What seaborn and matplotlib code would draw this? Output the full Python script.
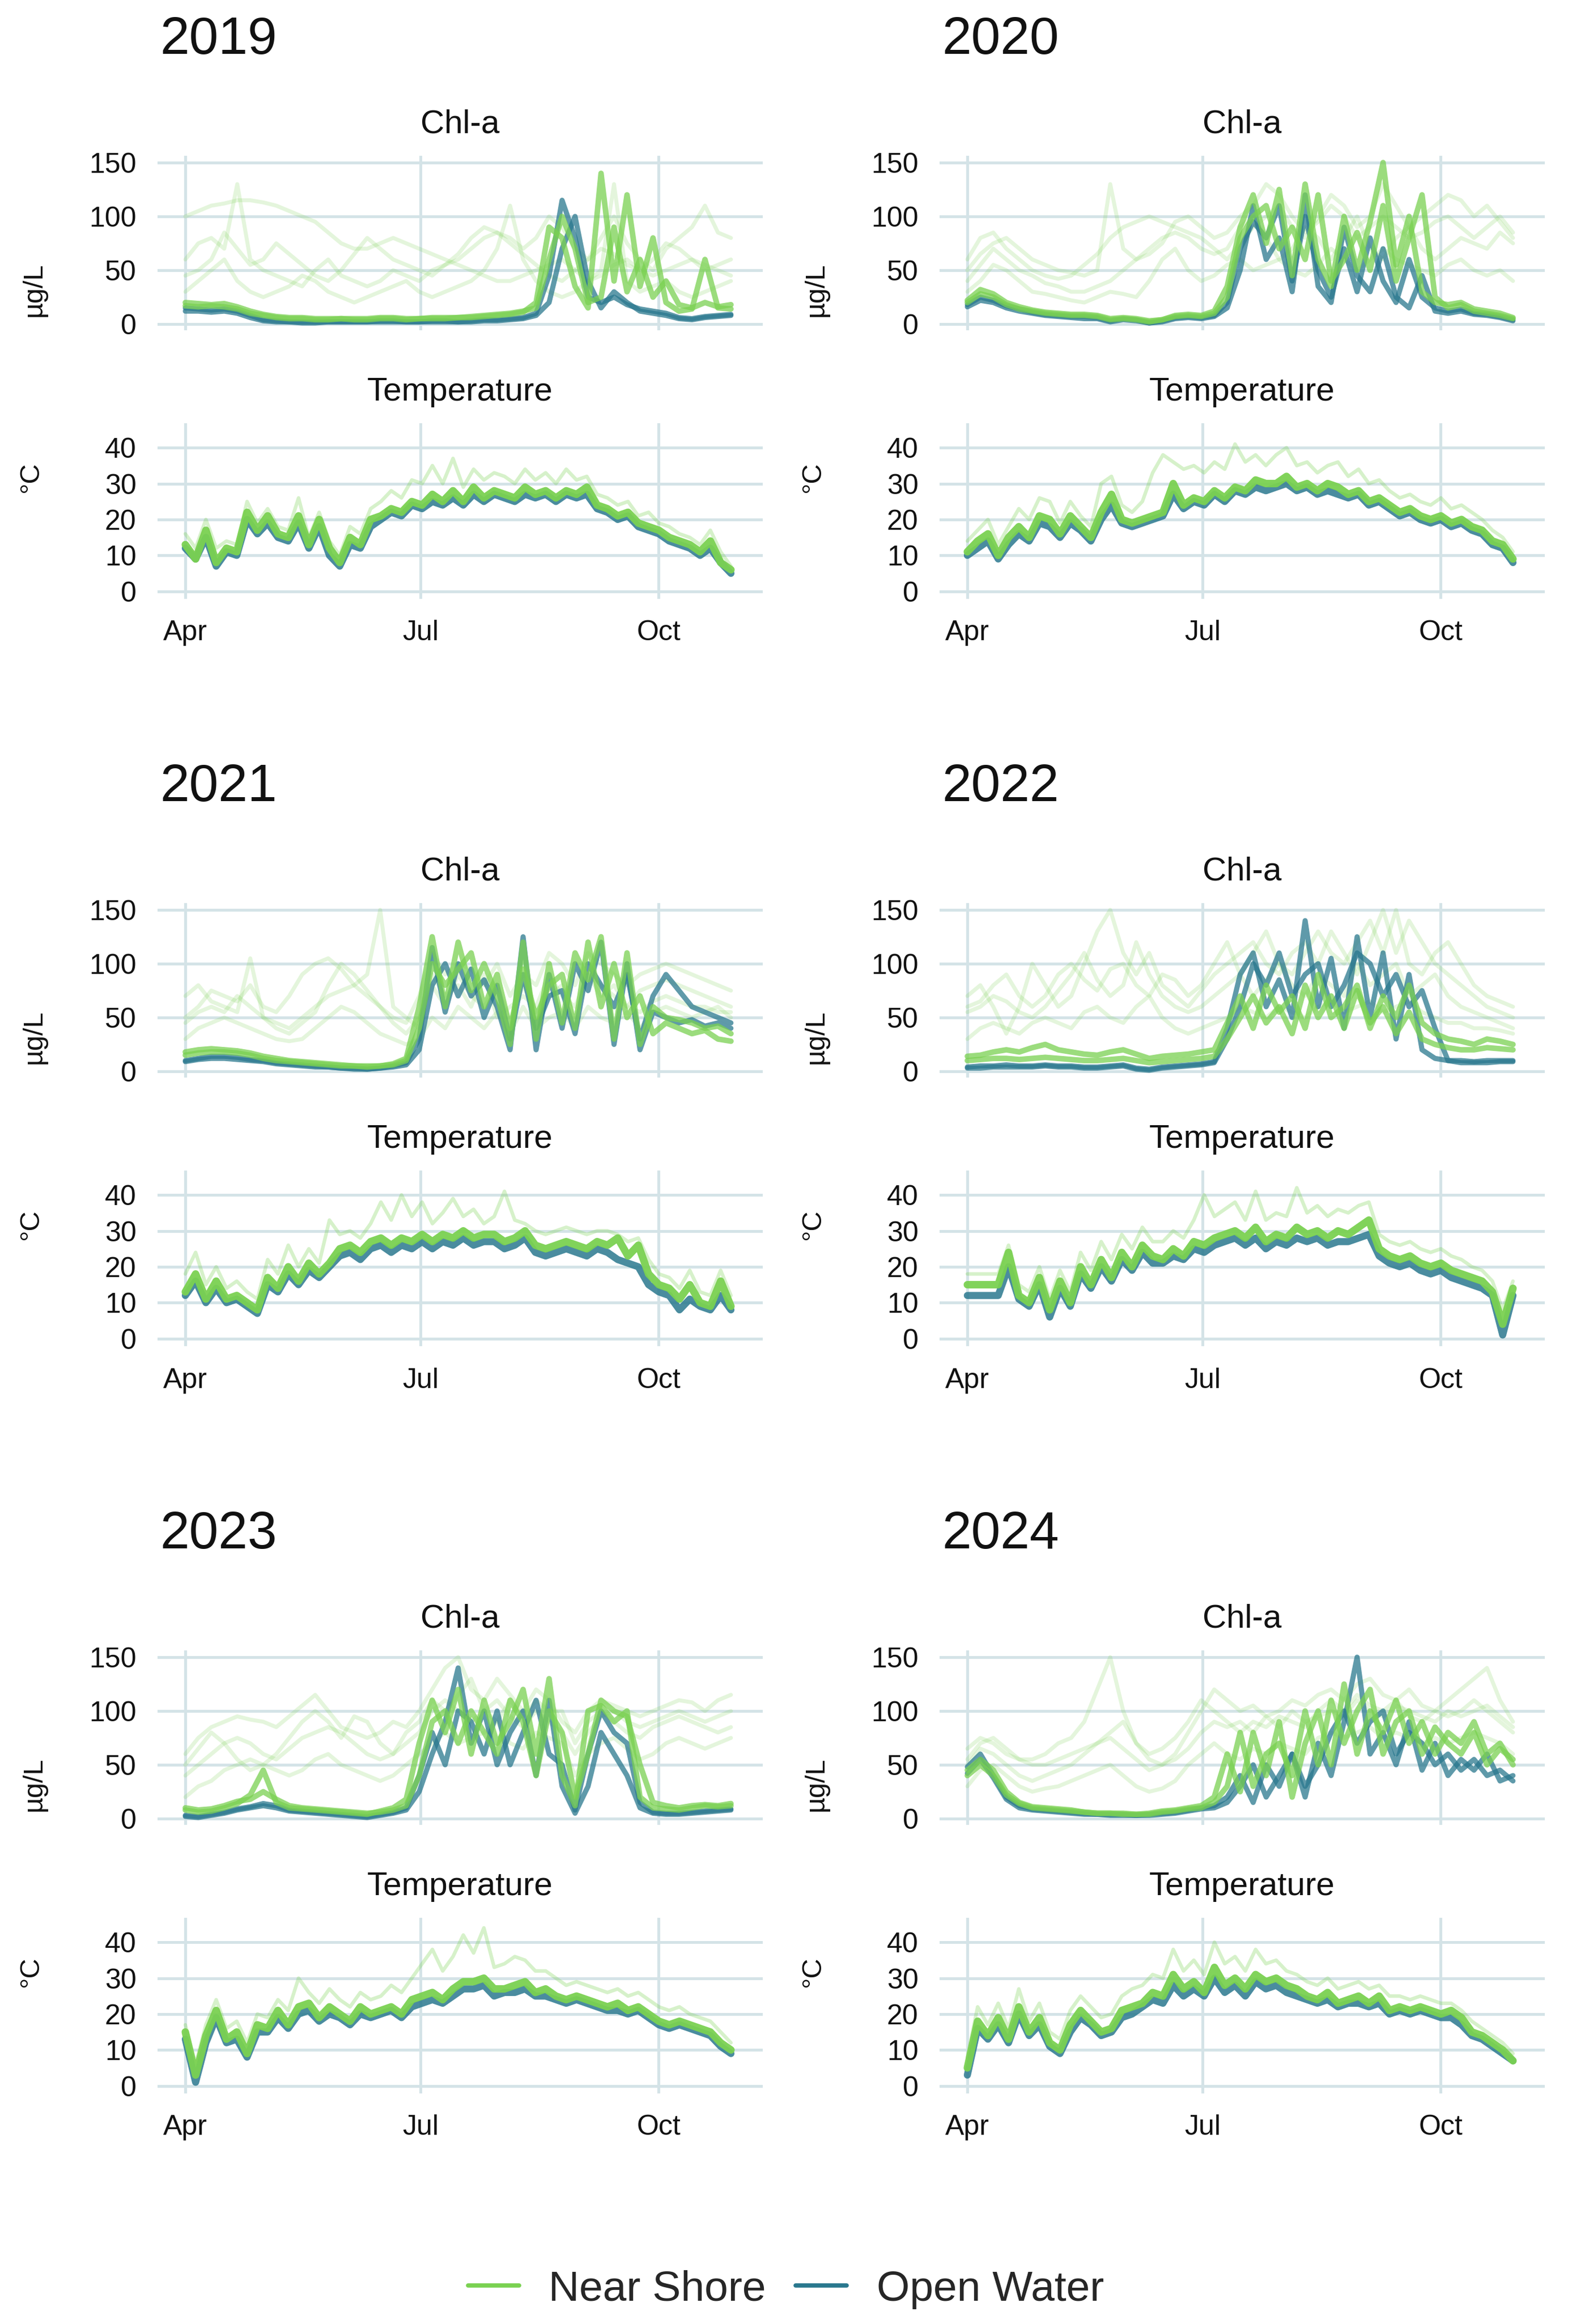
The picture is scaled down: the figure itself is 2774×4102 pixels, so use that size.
import numpy as np
import pandas as pd
import matplotlib
matplotlib.use("Agg")
import matplotlib.pyplot as plt
from matplotlib.lines import Line2D
import seaborn as sns

# ---------------------------------------------------------------- categories
YEARS = [2019, 2020, 2021, 2022, 2023, 2024]
GROUPS = ["Near Shore", "Open Water"]
MONTH_TICKS = ["Apr", "Jul", "Oct"]
CHL_TICKS = [0, 50, 100, 150]
TEMP_TICKS = [0, 10, 20, 30, 40]
PANEL_TITLES = ["Chl-a", "Temperature"]
UNIT_LABELS = ["\u00b5g/L", "\u00b0C"]

# ------------------------------------------------- values
# Chl-a (ug/L), ~5-day steps from Apr 1 to end of Oct
CHL_OW1_2019 = [15, 14, 13, 14, 12, 8, 4, 3, 2, 2, 2, 2, 2, 2, 2, 3, 3, 2, 2, 3, 3, 2, 3, 4, 4, 5, 6, 10, 45, 115, 80, 25, 20, 25, 18, 14, 12, 10, 6, 5, 7, 8, 9]
CHL_OW2_2019 = [12, 12, 11, 12, 10, 6, 3, 2, 2, 1, 1, 2, 2, 2, 2, 2, 2, 2, 2, 2, 2, 2, 2, 3, 3, 4, 5, 8, 20, 70, 100, 40, 15, 30, 20, 12, 10, 8, 5, 4, 6, 7, 8]
CHL_NS1_2019 = [20, 19, 18, 19, 16, 12, 9, 7, 6, 6, 5, 5, 5, 5, 5, 6, 6, 5, 5, 6, 6, 6, 7, 8, 9, 10, 12, 15, 60, 100, 70, 20, 25, 90, 30, 60, 25, 40, 18, 15, 20, 16, 18]
CHL_NS2_2019 = [17, 16, 17, 16, 14, 10, 8, 6, 5, 5, 4, 4, 5, 4, 4, 5, 5, 4, 5, 5, 5, 6, 6, 7, 8, 9, 11, 20, 90, 80, 35, 15, 140, 40, 120, 35, 80, 20, 12, 14, 60, 15, 14]
CHL_F1_2019 = [60, 75, 80, 70, 130, 60, 50, 45, 40, 35, 50, 60, 45, 40, 35, 40, 50, 45, 40, 50, 55, 60, 70, 80, 85, 80, 70, 80, 100, 90, 70, 60, 80, 100, 75, 60, 50, 70, 80, 90, 110, 85, 80]
CHL_F2_2019 = [100, 105, 110, 112, 115, 115, 113, 110, 105, 100, 95, 85, 75, 70, 70, 75, 80, 75, 70, 65, 60, 55, 50, 45, 40, 40, 45, 50, 55, 60, 50, 40, 45, 55, 60, 50, 45, 50, 55, 60, 55, 50, 45]
CHL_F3_2019 = [30, 40, 50, 60, 40, 30, 25, 30, 35, 45, 40, 30, 25, 20, 25, 30, 35, 40, 30, 25, 30, 35, 40, 50, 70, 110, 60, 40, 30, 25, 30, 40, 50, 130, 40, 30, 35, 40, 30, 25, 30, 35, 40]
CHL_F4_2019 = [45, 50, 60, 85, 70, 55, 60, 75, 65, 55, 45, 40, 50, 65, 80, 70, 60, 55, 50, 45, 55, 65, 80, 90, 85, 75, 65, 55, 45, 40, 50, 60, 70, 65, 55, 50, 60, 75, 70, 60, 50, 55, 60]

CHL_OW1_2020 = [18, 25, 22, 17, 14, 11, 9, 8, 7, 7, 6, 3, 5, 4, 1, 3, 6, 7, 6, 8, 20, 70, 95, 80, 110, 40, 100, 50, 25, 70, 30, 80, 40, 20, 60, 25, 15, 12, 14, 10, 9, 7, 4]
CHL_OW2_2020 = [16, 22, 20, 15, 12, 10, 8, 7, 6, 5, 5, 2, 4, 3, 1, 2, 5, 6, 5, 7, 15, 50, 110, 60, 80, 30, 120, 35, 20, 90, 45, 30, 70, 25, 15, 45, 12, 10, 12, 9, 8, 6, 3]
CHL_NS1_2020 = [22, 32, 28, 20, 16, 13, 11, 10, 9, 9, 8, 5, 6, 5, 3, 4, 8, 9, 8, 12, 35, 90, 120, 75, 125, 45, 130, 60, 35, 100, 50, 95, 150, 55, 100, 30, 20, 18, 20, 14, 12, 10, 6]
CHL_NS2_2020 = [20, 28, 25, 18, 14, 12, 10, 9, 8, 8, 7, 4, 5, 4, 2, 4, 7, 8, 7, 10, 25, 80, 100, 110, 70, 90, 60, 120, 40, 60, 85, 50, 110, 40, 80, 120, 25, 15, 18, 12, 10, 8, 5]
CHL_F1_2020 = [60, 80, 85, 70, 60, 50, 45, 42, 45, 55, 65, 80, 90, 95, 100, 95, 90, 85, 80, 70, 60, 75, 90, 100, 110, 90, 80, 100, 120, 110, 90, 100, 130, 110, 90, 100, 110, 120, 115, 100, 110, 95, 80]
CHL_F2_2020 = [40, 55, 70, 60, 50, 45, 38, 35, 30, 30, 35, 40, 50, 60, 70, 80, 85, 80, 70, 65, 70, 90, 100, 80, 60, 70, 90, 80, 60, 80, 100, 70, 60, 80, 90, 70, 60, 70, 80, 75, 70, 85, 75]
CHL_F3_2020 = [30, 40, 55, 50, 40, 30, 28, 25, 22, 20, 25, 30, 28, 25, 40, 60, 70, 50, 40, 45, 55, 60, 50, 55, 60, 50, 45, 55, 70, 60, 50, 60, 70, 60, 55, 50, 45, 55, 60, 50, 45, 50, 40]
CHL_F4_2020 = [50, 65, 75, 80, 70, 60, 55, 50, 48, 45, 50, 130, 70, 60, 65, 75, 95, 100, 90, 80, 85, 100, 110, 130, 120, 100, 85, 95, 110, 100, 80, 90, 100, 90, 80, 85, 95, 100, 90, 80, 90, 100, 85]

CHL_OW1_2021 = [10, 12, 14, 14, 13, 11, 10, 8, 7, 6, 5, 4, 3, 3, 2, 3, 5, 8, 30, 115, 55, 100, 70, 85, 60, 20, 125, 20, 90, 40, 100, 75, 120, 25, 100, 20, 55, 50, 45, 48, 42, 45, 40]
CHL_OW2_2021 = [9, 11, 12, 12, 11, 10, 9, 7, 6, 5, 4, 4, 3, 2, 2, 3, 4, 6, 20, 80, 100, 70, 95, 50, 80, 30, 90, 40, 70, 75, 35, 100, 80, 60, 90, 30, 70, 90, 75, 60, 55, 50, 45]
CHL_NS1_2021 = [18, 20, 21, 20, 19, 17, 14, 12, 10, 9, 8, 7, 6, 5, 5, 5, 7, 12, 60, 125, 60, 120, 75, 100, 70, 25, 120, 30, 100, 45, 110, 85, 125, 30, 110, 25, 60, 50, 48, 45, 40, 42, 35]
CHL_NS2_2021 = [15, 17, 18, 18, 17, 15, 12, 10, 9, 8, 7, 6, 5, 5, 4, 5, 6, 10, 40, 100, 80, 95, 110, 60, 90, 40, 95, 50, 80, 90, 40, 120, 60, 100, 50, 70, 35, 45, 40, 35, 38, 30, 28]
CHL_F1_2021 = [50, 60, 75, 70, 65, 80, 60, 55, 70, 90, 100, 105, 95, 80, 70, 60, 50, 45, 70, 110, 90, 100, 95, 80, 100, 70, 90, 80, 110, 100, 80, 110, 100, 90, 80, 90, 95, 100, 95, 90, 85, 80, 75]
CHL_F2_2021 = [70, 80, 65, 60, 55, 105, 50, 45, 40, 50, 60, 70, 75, 80, 90, 150, 60, 50, 40, 90, 70, 80, 60, 90, 50, 60, 70, 60, 90, 70, 60, 90, 80, 70, 60, 75, 80, 85, 80, 75, 70, 65, 60]
CHL_F3_2021 = [30, 40, 45, 50, 45, 40, 35, 30, 28, 30, 40, 50, 60, 55, 45, 35, 30, 25, 30, 50, 40, 60, 50, 40, 55, 35, 60, 40, 50, 55, 40, 60, 50, 45, 55, 40, 55, 60, 55, 50, 55, 60, 50]
CHL_F4_2021 = [45, 55, 60, 55, 70, 60, 50, 40, 35, 45, 55, 80, 100, 90, 75, 60, 45, 35, 50, 80, 60, 90, 70, 60, 80, 45, 80, 55, 70, 80, 50, 90, 70, 80, 60, 55, 65, 70, 65, 60, 60, 55, 55]

CHL_OW1_2022 = [4, 5, 5, 6, 5, 5, 6, 5, 5, 4, 4, 5, 6, 3, 2, 4, 5, 6, 7, 9, 40, 90, 110, 60, 85, 50, 140, 60, 105, 40, 125, 50, 110, 30, 90, 20, 12, 10, 10, 9, 10, 10, 10]
CHL_OW2_2022 = [3, 3, 4, 4, 4, 4, 5, 4, 4, 3, 3, 4, 5, 2, 1, 3, 4, 5, 6, 8, 30, 60, 100, 80, 110, 70, 90, 100, 60, 80, 110, 100, 70, 90, 60, 75, 40, 10, 8, 8, 8, 9, 9]
CHL_NS1_2022 = [10, 11, 12, 12, 11, 12, 13, 12, 11, 10, 10, 11, 12, 10, 8, 9, 10, 11, 12, 14, 30, 50, 70, 45, 60, 35, 80, 50, 70, 40, 75, 45, 60, 35, 55, 30, 25, 22, 20, 20, 22, 21, 20]
CHL_NS2_2022 = [14, 15, 18, 20, 18, 22, 25, 20, 18, 16, 15, 18, 20, 16, 12, 14, 15, 16, 18, 20, 45, 70, 40, 80, 55, 70, 40, 90, 50, 60, 80, 40, 70, 50, 80, 45, 35, 30, 28, 25, 30, 28, 25]
CHL_F1_2022 = [70, 80, 60, 35, 60, 100, 80, 60, 70, 100, 130, 150, 110, 90, 110, 80, 70, 60, 75, 90, 100, 110, 120, 100, 90, 110, 120, 100, 130, 110, 90, 120, 150, 110, 140, 120, 100, 90, 80, 70, 60, 55, 50]
CHL_F2_2022 = [55, 60, 70, 65, 55, 50, 60, 75, 90, 110, 85, 70, 80, 120, 90, 70, 60, 55, 60, 70, 80, 90, 70, 85, 100, 80, 70, 90, 80, 70, 100, 80, 90, 100, 70, 80, 90, 70, 60, 55, 50, 45, 40]
CHL_F3_2022 = [30, 40, 45, 40, 35, 45, 50, 45, 40, 55, 60, 50, 45, 60, 70, 50, 40, 35, 40, 45, 50, 60, 55, 50, 60, 55, 50, 60, 65, 55, 60, 65, 55, 60, 65, 55, 50, 45, 45, 40, 40, 38, 35]
CHL_F4_2022 = [60, 65, 80, 90, 70, 60, 70, 90, 100, 85, 75, 95, 100, 80, 70, 90, 85, 70, 80, 100, 120, 90, 110, 130, 100, 90, 110, 130, 110, 100, 120, 140, 110, 150, 100, 90, 110, 120, 100, 80, 70, 65, 60]

CHL_OW1_2023 = [2, 1, 3, 5, 8, 10, 12, 10, 7, 6, 5, 4, 3, 2, 1, 3, 5, 8, 25, 60, 90, 140, 70, 100, 50, 80, 100, 40, 110, 30, 5, 30, 80, 60, 40, 10, 5, 4, 4, 5, 6, 7, 8]
CHL_OW2_2023 = [3, 2, 4, 6, 9, 11, 14, 12, 8, 7, 6, 5, 4, 3, 2, 4, 6, 10, 40, 80, 50, 100, 90, 60, 100, 50, 80, 110, 60, 50, 8, 60, 100, 80, 70, 15, 6, 5, 5, 6, 7, 8, 9]
CHL_NS1_2023 = [8, 6, 7, 10, 14, 22, 45, 15, 10, 9, 8, 7, 6, 5, 4, 7, 10, 18, 70, 110, 80, 120, 60, 110, 70, 90, 120, 60, 130, 40, 12, 100, 105, 90, 100, 20, 10, 9, 8, 10, 12, 11, 12]
CHL_NS2_2023 = [10, 8, 9, 12, 16, 18, 25, 18, 12, 10, 9, 8, 7, 6, 5, 6, 8, 12, 40, 90, 100, 70, 100, 80, 60, 110, 90, 40, 100, 80, 20, 60, 110, 100, 95, 50, 15, 12, 10, 12, 13, 12, 14]
CHL_F1_2023 = [60, 75, 85, 90, 95, 92, 90, 85, 95, 105, 115, 100, 85, 80, 75, 80, 90, 85, 100, 120, 140, 150, 120, 110, 130, 115, 100, 120, 110, 90, 80, 100, 110, 105, 100, 95, 100, 105, 110, 108, 100, 110, 115]
CHL_F2_2023 = [40, 50, 60, 70, 75, 70, 60, 55, 65, 75, 80, 85, 80, 70, 60, 55, 60, 70, 80, 100, 110, 100, 90, 100, 110, 95, 85, 100, 90, 80, 60, 80, 95, 100, 90, 85, 90, 95, 100, 95, 90, 95, 100]
CHL_F3_2023 = [20, 30, 35, 45, 50, 55, 50, 45, 40, 45, 55, 60, 50, 45, 40, 35, 40, 50, 60, 70, 80, 70, 75, 80, 90, 70, 65, 80, 75, 70, 40, 60, 70, 75, 65, 55, 60, 70, 75, 70, 65, 70, 75]
CHL_F4_2023 = [50, 65, 80, 70, 55, 45, 50, 60, 75, 90, 100, 90, 75, 95, 90, 70, 60, 80, 90, 110, 100, 115, 130, 100, 90, 110, 95, 110, 100, 100, 70, 90, 100, 90, 80, 75, 85, 90, 95, 90, 85, 80, 85]

CHL_OW1_2024 = [48, 60, 40, 20, 12, 9, 8, 7, 6, 5, 4, 4, 4, 3, 4, 5, 6, 8, 10, 12, 20, 40, 15, 50, 30, 60, 20, 70, 40, 90, 150, 60, 80, 50, 90, 45, 70, 40, 55, 45, 60, 35, 40]
CHL_OW2_2024 = [42, 55, 38, 18, 10, 8, 7, 6, 5, 4, 4, 3, 3, 3, 3, 4, 5, 7, 9, 10, 15, 30, 50, 20, 40, 60, 30, 50, 80, 100, 70, 90, 100, 60, 80, 70, 50, 60, 45, 55, 40, 45, 35]
CHL_NS1_2024 = [45, 55, 45, 25, 15, 11, 10, 9, 8, 6, 5, 5, 5, 4, 5, 7, 8, 10, 12, 20, 60, 25, 80, 40, 90, 20, 70, 100, 50, 125, 60, 100, 80, 110, 70, 90, 60, 80, 70, 90, 60, 70, 50]
CHL_NS2_2024 = [40, 50, 40, 22, 14, 10, 9, 8, 7, 6, 5, 5, 4, 4, 4, 6, 7, 9, 10, 15, 30, 80, 30, 60, 70, 40, 100, 50, 110, 70, 100, 120, 60, 90, 100, 60, 85, 70, 60, 80, 50, 65, 55]
CHL_F1_2024 = [65, 75, 70, 60, 55, 55, 60, 70, 75, 90, 120, 150, 100, 70, 55, 50, 60, 80, 100, 120, 110, 100, 105, 95, 100, 110, 105, 115, 120, 110, 125, 130, 115, 110, 120, 105, 100, 110, 120, 130, 140, 110, 90]
CHL_F2_2024 = [55, 70, 75, 65, 55, 50, 50, 55, 60, 65, 70, 75, 65, 55, 45, 50, 55, 65, 80, 90, 85, 90, 80, 95, 85, 100, 90, 95, 100, 95, 110, 100, 95, 105, 100, 95, 90, 100, 95, 100, 105, 95, 85]
CHL_F3_2024 = [30, 45, 50, 40, 30, 25, 28, 30, 35, 40, 45, 50, 40, 30, 25, 28, 35, 50, 60, 70, 60, 55, 65, 60, 70, 65, 60, 75, 80, 75, 80, 85, 75, 80, 75, 70, 75, 70, 75, 80, 75, 70, 60]
CHL_F4_2024 = [50, 65, 60, 50, 40, 35, 40, 45, 50, 60, 70, 80, 90, 70, 60, 65, 75, 90, 110, 100, 90, 80, 90, 85, 95, 90, 85, 100, 110, 100, 115, 105, 100, 110, 95, 90, 100, 95, 100, 110, 100, 90, 80]

# Temperature (deg C), ~4-day steps from Apr 1 to end of Oct
TEMP_NS_2019 = [13, 9, 17, 8, 12, 11, 22, 17, 21, 16, 15, 21, 13, 20, 12, 8, 15, 13, 20, 21, 23, 22, 25, 24, 27, 25, 28, 25, 29, 26, 28, 27, 26, 29, 27, 28, 26, 28, 27, 29, 24, 23, 21, 22, 19, 18, 17, 15, 14, 13, 11, 14, 8, 6]
TEMP_OW_2019 = [12, 9, 15, 7, 11, 10, 20, 16, 19, 15, 14, 19, 12, 18, 10, 7, 13, 12, 18, 20, 22, 21, 24, 23, 25, 24, 26, 24, 27, 25, 27, 26, 25, 27, 26, 27, 25, 27, 26, 27, 23, 22, 20, 21, 18, 17, 16, 14, 13, 12, 10, 12, 8, 5]
TEMP_HI_2019 = [16, 12, 20, 12, 14, 13, 25, 19, 23, 18, 17, 26, 15, 22, 14, 10, 18, 16, 23, 25, 28, 26, 31, 30, 35, 30, 37, 29, 34, 31, 33, 32, 30, 34, 31, 33, 30, 34, 31, 32, 27, 26, 24, 25, 21, 22, 19, 18, 16, 15, 13, 17, 11, 7]

TEMP_NS_2020 = [11, 14, 16, 10, 15, 18, 15, 21, 20, 16, 21, 18, 15, 22, 27, 20, 19, 20, 21, 22, 30, 24, 26, 25, 28, 26, 29, 28, 31, 30, 30, 32, 29, 30, 28, 30, 29, 27, 28, 25, 26, 24, 22, 23, 21, 20, 21, 19, 20, 18, 17, 14, 13, 9]
TEMP_OW_2020 = [10, 12, 14, 9, 13, 16, 14, 19, 18, 15, 19, 17, 14, 20, 24, 19, 18, 19, 20, 21, 27, 23, 25, 24, 27, 25, 28, 27, 29, 28, 29, 30, 28, 29, 27, 28, 27, 26, 27, 24, 25, 23, 21, 22, 20, 19, 20, 18, 19, 17, 16, 13, 12, 8]
TEMP_HI_2020 = [14, 17, 20, 13, 18, 23, 20, 26, 25, 19, 25, 21, 18, 30, 32, 24, 22, 25, 33, 38, 36, 34, 35, 33, 36, 34, 41, 36, 38, 35, 38, 40, 35, 36, 33, 35, 36, 32, 34, 30, 31, 28, 26, 27, 25, 24, 26, 23, 24, 22, 20, 17, 15, 11]

TEMP_NS_2021 = [13, 18, 11, 16, 11, 12, 10, 8, 17, 14, 20, 16, 21, 18, 21, 25, 26, 24, 27, 28, 26, 28, 27, 29, 27, 29, 28, 30, 28, 29, 29, 27, 28, 30, 26, 25, 26, 27, 26, 25, 27, 26, 28, 23, 26, 18, 15, 14, 11, 15, 10, 9, 16, 9]
TEMP_OW_2021 = [12, 16, 10, 14, 10, 11, 9, 7, 15, 13, 18, 15, 19, 17, 20, 23, 24, 22, 25, 26, 24, 26, 25, 27, 25, 27, 26, 28, 26, 27, 27, 25, 26, 28, 24, 23, 24, 25, 24, 23, 25, 24, 22, 21, 20, 15, 13, 12, 8, 11, 9, 8, 12, 8]
TEMP_HI_2021 = [18, 24, 15, 20, 14, 16, 13, 11, 22, 18, 26, 20, 25, 21, 33, 29, 30, 28, 32, 38, 33, 40, 34, 38, 32, 35, 39, 34, 36, 32, 34, 41, 33, 32, 30, 29, 30, 31, 30, 29, 30, 30, 29, 27, 28, 22, 18, 17, 14, 19, 13, 12, 19, 12]

TEMP_NS_2022 = [15, 15, 15, 15, 24, 12, 10, 17, 8, 16, 10, 20, 15, 22, 17, 24, 20, 26, 23, 22, 25, 23, 27, 26, 28, 29, 30, 28, 31, 27, 29, 28, 31, 29, 30, 28, 30, 29, 31, 33, 25, 23, 22, 23, 21, 20, 21, 19, 18, 17, 16, 13, 4, 14]
TEMP_OW_2022 = [12, 12, 12, 12, 20, 11, 9, 15, 6, 14, 9, 18, 14, 20, 16, 22, 19, 24, 21, 21, 23, 22, 25, 24, 26, 27, 28, 26, 28, 25, 27, 26, 28, 27, 28, 26, 27, 27, 28, 29, 23, 21, 20, 21, 19, 18, 19, 17, 16, 15, 14, 12, 1, 12]
TEMP_HI_2022 = [18, 18, 18, 18, 26, 15, 13, 20, 11, 19, 13, 24, 19, 27, 22, 29, 25, 31, 27, 27, 30, 28, 33, 40, 34, 36, 38, 33, 41, 33, 35, 34, 42, 35, 37, 34, 36, 35, 37, 38, 29, 27, 26, 27, 25, 24, 25, 23, 22, 20, 19, 16, 8, 16]

TEMP_NS_2023 = [15, 3, 14, 21, 13, 15, 9, 17, 16, 21, 17, 22, 23, 19, 22, 20, 18, 22, 20, 21, 22, 20, 24, 25, 26, 24, 27, 29, 29, 30, 27, 27, 28, 29, 26, 27, 25, 24, 25, 24, 23, 22, 23, 21, 22, 20, 18, 17, 18, 17, 16, 15, 12, 10]
TEMP_OW_2023 = [13, 1, 12, 19, 12, 13, 8, 15, 15, 19, 16, 20, 21, 18, 20, 19, 17, 20, 19, 20, 21, 19, 22, 23, 24, 23, 25, 27, 27, 28, 25, 26, 26, 27, 25, 25, 24, 23, 24, 23, 22, 21, 21, 20, 21, 19, 17, 16, 17, 16, 15, 14, 11, 9]
TEMP_HI_2023 = [17, 6, 17, 24, 16, 18, 12, 20, 19, 24, 21, 30, 26, 23, 27, 24, 22, 26, 24, 25, 28, 26, 30, 34, 38, 32, 36, 42, 37, 44, 33, 34, 36, 35, 32, 32, 30, 28, 29, 28, 27, 26, 27, 25, 26, 24, 22, 21, 22, 20, 19, 18, 15, 12]

TEMP_NS_2024 = [5, 18, 14, 19, 13, 22, 15, 19, 12, 10, 17, 21, 18, 15, 16, 21, 22, 23, 26, 25, 31, 27, 29, 26, 33, 28, 30, 27, 31, 29, 30, 28, 27, 25, 24, 26, 23, 24, 25, 23, 25, 21, 22, 21, 22, 21, 20, 21, 19, 15, 14, 12, 10, 7]
TEMP_OW_2024 = [3, 16, 13, 17, 12, 20, 14, 17, 11, 9, 15, 19, 17, 14, 15, 19, 20, 22, 24, 23, 28, 25, 27, 25, 30, 26, 28, 25, 29, 27, 28, 26, 25, 24, 23, 24, 22, 23, 23, 22, 23, 20, 21, 20, 21, 20, 19, 19, 17, 14, 13, 11, 9, 7]
TEMP_HI_2024 = [8, 22, 17, 23, 16, 27, 18, 23, 15, 13, 21, 25, 22, 19, 20, 25, 27, 28, 31, 30, 38, 32, 35, 31, 40, 34, 36, 32, 38, 34, 35, 32, 31, 29, 28, 30, 27, 28, 29, 27, 28, 25, 25, 24, 25, 24, 23, 23, 21, 18, 16, 14, 12, 9]

# ------------------------------------------------------------- styling/layout
NS_COLOR = "#7AD151"
OW_COLOR = "#2A788E"
PALETTE = {"Near Shore": NS_COLOR, "Open Water": OW_COLOR}
GRID_COLOR = "#D4E3E7"
TEXT_COLOR = "#111111"

W_PX, H_PX, DPI = 2774, 4102, 100
COL_LEFT = [278, 1658]
AX_W = 1068
ROW_STEP = 1319
CHL_TOP, CHL_H = 275, 308
TEMP_TOP, TEMP_H = 747, 310

# series name -> (group, layer)
CHL_LAYERS = {
    "CHL_F1": ("Near Shore", "faint"), "CHL_F2": ("Near Shore", "faint"),
    "CHL_F3": ("Near Shore", "faint"), "CHL_F4": ("Near Shore", "faint"),
    "CHL_OW1": ("Open Water", "ow"), "CHL_OW2": ("Open Water", "ow"),
    "CHL_NS1": ("Near Shore", "ns"), "CHL_NS2": ("Near Shore", "ns"),
}
TEMP_LAYERS = {
    "TEMP_HI": ("Near Shore", "faint"),
    "TEMP_OW": ("Open Water", "ow"),
    "TEMP_NS": ("Near Shore", "ns"),
}


def long_frame(year, layers):
    frames = []
    for name, (group, layer) in layers.items():
        vals = globals()[f"{name}_{year}"]
        dates = pd.date_range(f"{year}-04-01", f"{year}-10-29", periods=len(vals))
        frames.append(pd.DataFrame({"date": dates, "value": vals, "unit": name,
                                    "group": group, "layer": layer}))
    return pd.concat(frames, ignore_index=True)


def fig_rect(left, top, width, height):
    return [left / W_PX, 1 - (top + height) / H_PX, width / W_PX, height / H_PX]


def style_axes(ax, year, yticks, ylim, show_x):
    ax.set_xlim(pd.Timestamp(f"{year}-04-01") - pd.Timedelta(days=10.74),
                pd.Timestamp(f"{year}-10-01") + pd.Timedelta(days=40.3))
    ax.set_ylim(*ylim)
    ax.set_xticks([pd.Timestamp(f"{year}-{m}-01") for m in ("04", "07", "10")])
    ax.set_xticklabels(MONTH_TICKS)
    ax.set_yticks(yticks)
    ax.set_yticklabels([str(t) for t in yticks])
    ax.grid(True, color=GRID_COLOR, linewidth=3.6)
    ax.set_axisbelow(True)
    for s in ax.spines.values():
        s.set_visible(False)
    ax.tick_params(length=0, labelsize=36, pad=27, colors=TEXT_COLOR)
    ax.tick_params(axis="x", labelbottom=show_x)
    ax.set_xlabel("")
    ax.set_ylabel("")


def draw_layers(ax, df, styles):
    for layer, (alpha, lw) in styles.items():
        sub = df[df["layer"] == layer]
        sns.lineplot(data=sub, x="date", y="value", hue="group", units="unit",
                     estimator=None, palette=PALETTE, alpha=alpha, linewidth=lw,
                     legend=False, ax=ax, sort=False)


sns.set_theme(style="white")
plt.rcParams["font.family"] = ["Liberation Sans", "DejaVu Sans"]

fig = plt.figure(figsize=(W_PX / DPI, H_PX / DPI), dpi=DPI, facecolor="white")

CHL_STYLES = {"faint": (0.2, 5.0), "ow": (0.75, 6.5), "ns": (0.75, 7.0)}
TEMP_STYLES = {"faint": (0.3, 4.5), "ow": (0.85, 9.0), "ns": (0.95, 9.5)}

for k, year in enumerate(YEARS):
    r, c = divmod(k, 2)
    left = COL_LEFT[c]
    dy = r * ROW_STEP

    ax_c = fig.add_axes(fig_rect(left, CHL_TOP + dy, AX_W, CHL_H))
    draw_layers(ax_c, long_frame(year, CHL_LAYERS), CHL_STYLES)
    style_axes(ax_c, year, CHL_TICKS, (-5.8, 156.3), False)
    ax_c.set_title(PANEL_TITLES[0], fontsize=42, pad=29, color=TEXT_COLOR)

    ax_t = fig.add_axes(fig_rect(left, TEMP_TOP + dy, AX_W, TEMP_H))
    draw_layers(ax_t, long_frame(year, TEMP_LAYERS), TEMP_STYLES)
    style_axes(ax_t, year, TEMP_TICKS, (-2.1, 46.8), True)
    ax_t.set_title(PANEL_TITLES[1], fontsize=42, pad=29, color=TEXT_COLOR)

    x_off = c * 1380
    fig.text((282 + x_off) / W_PX, 1 - (95 + dy) / H_PX, str(year),
             fontsize=67, ha="left", va="baseline", color=TEXT_COLOR)
    fig.text((60 + x_off) / W_PX, 1 - (511 + dy) / H_PX, UNIT_LABELS[0],
             fontsize=35, rotation=90, ha="center", va="center", color=TEXT_COLOR)
    fig.text((55 + x_off) / W_PX, 1 - (843 + dy) / H_PX, UNIT_LABELS[1],
             fontsize=35, rotation=90, ha="center", va="center", color=TEXT_COLOR)

handles = [Line2D([0], [0], color=PALETTE[g], lw=5.5) for g in GROUPS]
fig.legend(handles, GROUPS, loc="center", bbox_to_anchor=(0.5, 1 - 4041 / H_PX),
           ncol=2, frameon=False, fontsize=54, handlelength=1.2,
           handletextpad=0.7, columnspacing=0.7)

fig.savefig("out.png", dpi=DPI, facecolor="white")
